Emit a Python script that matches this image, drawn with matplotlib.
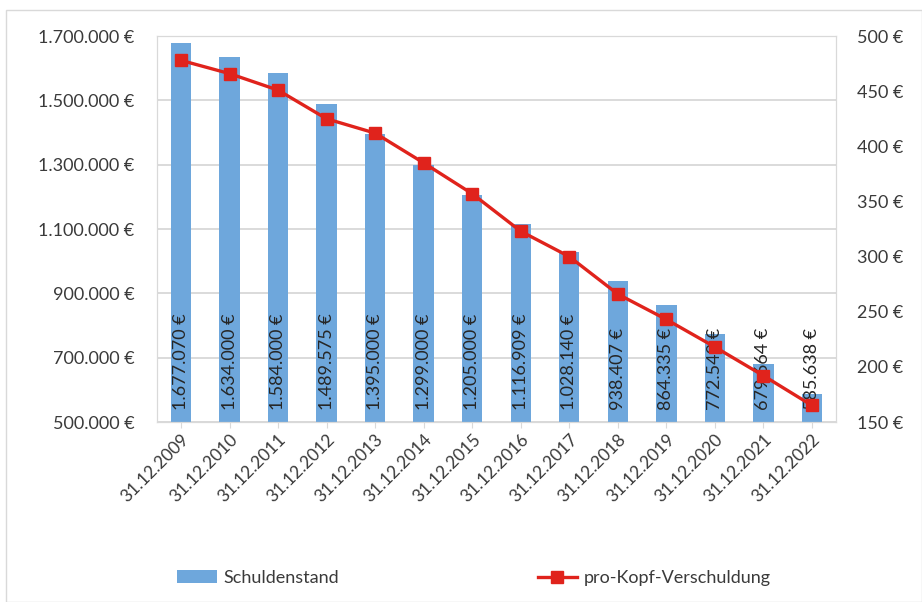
import numpy as np
import matplotlib
matplotlib.use("Agg")
import matplotlib.pyplot as plt
from matplotlib.ticker import FuncFormatter, MultipleLocator, FixedLocator
from matplotlib.patches import Rectangle

plt.rcParams['font.family'] = ['Lato', 'DejaVu Sans']

# Daten
stichtage = ['31.12.2009', '31.12.2010', '31.12.2011', '31.12.2012', '31.12.2013',
             '31.12.2014', '31.12.2015', '31.12.2016', '31.12.2017', '31.12.2018',
             '31.12.2019', '31.12.2020', '31.12.2021', '31.12.2022']
schuldenstand = [1677070, 1634000, 1584000, 1489575, 1395000, 1299000, 1205000,
                 1116909, 1028140, 938407, 864335, 772549, 679664, 585638]
pro_kopf = [478, 466, 451, 425, 412, 385, 357, 323, 300, 266, 243, 218, 192, 165]

blau = '#6ea7dc'
rot = '#e0231c'
grau_text = '#3a3a3a'
fs = 13


def euro(v):
    s = f"{int(round(v)):,}".replace(',', '.')
    return s + ' €'


fig = plt.figure(figsize=(9.22, 6.02), dpi=100)
fig.patch.set_facecolor('white')
fig.add_artist(Rectangle((0.006, 0.0), 0.994, 0.983, transform=fig.transFigure,
                         fill=False, edgecolor='#d9d9d9', linewidth=1))

ax = fig.add_axes([0.170, 0.299, 0.737, 0.641])
x = np.arange(len(stichtage))
bars = ax.bar(x, schuldenstand, width=0.42, color=blau, zorder=2,
              label='Schuldenstand')
ax.set_ylim(500000, 1700000)
ax.set_xlim(-0.5, len(stichtage) - 0.5)
ax.yaxis.set_major_locator(FixedLocator(np.arange(500000, 1700001, 200000)))
ax.yaxis.set_major_formatter(FuncFormatter(lambda v, p: euro(v)))
ax.grid(axis='y', color='#d4d4d4', linewidth=1.2, zorder=0)
ax.set_axisbelow(True)
for s in ax.spines.values():
    s.set_color('#d9d9d9')
ax.tick_params(axis='y', length=0, labelsize=fs, labelcolor=grau_text, pad=16)
ax.tick_params(axis='x', length=4, color='#d9d9d9', labelsize=12.5,
               labelcolor=grau_text, pad=3)
ax.set_xticks(x)
ax.set_xticklabels(stichtage, rotation=45, ha='right', rotation_mode='anchor')

# Beschriftung in den Balken
for xi, v in zip(x, schuldenstand):
    ax.annotate(euro(v), (xi, 500000), xytext=(0, 9), textcoords='offset points',
                rotation=90, ha='center', va='bottom', fontsize=fs,
                color='#262626', zorder=5)

ax2 = ax.twinx()
ax2.plot(x, pro_kopf, color=rot, linewidth=2.4, marker='s', markersize=9,
         zorder=4, label='pro-Kopf-Verschuldung')
ax2.set_ylim(150, 500)
ax2.yaxis.set_major_locator(MultipleLocator(50))
ax2.yaxis.set_major_formatter(FuncFormatter(lambda v, p: f"{int(v)} €"))
ax2.tick_params(axis='y', length=0, labelsize=fs, labelcolor=grau_text, pad=15)
for s in ax2.spines.values():
    s.set_color('#d9d9d9')

handles = [bars, ax2.get_lines()[0]]
fig.legend(handles, ['Schuldenstand', 'pro-Kopf-Verschuldung'], loc='center',
           bbox_to_anchor=(0.514, 0.04), ncol=2, frameon=False, fontsize=fs,
           columnspacing=11, handlelength=2.2, handletextpad=0.35,
           labelcolor=grau_text)

fig.savefig('out.png', dpi=100)
